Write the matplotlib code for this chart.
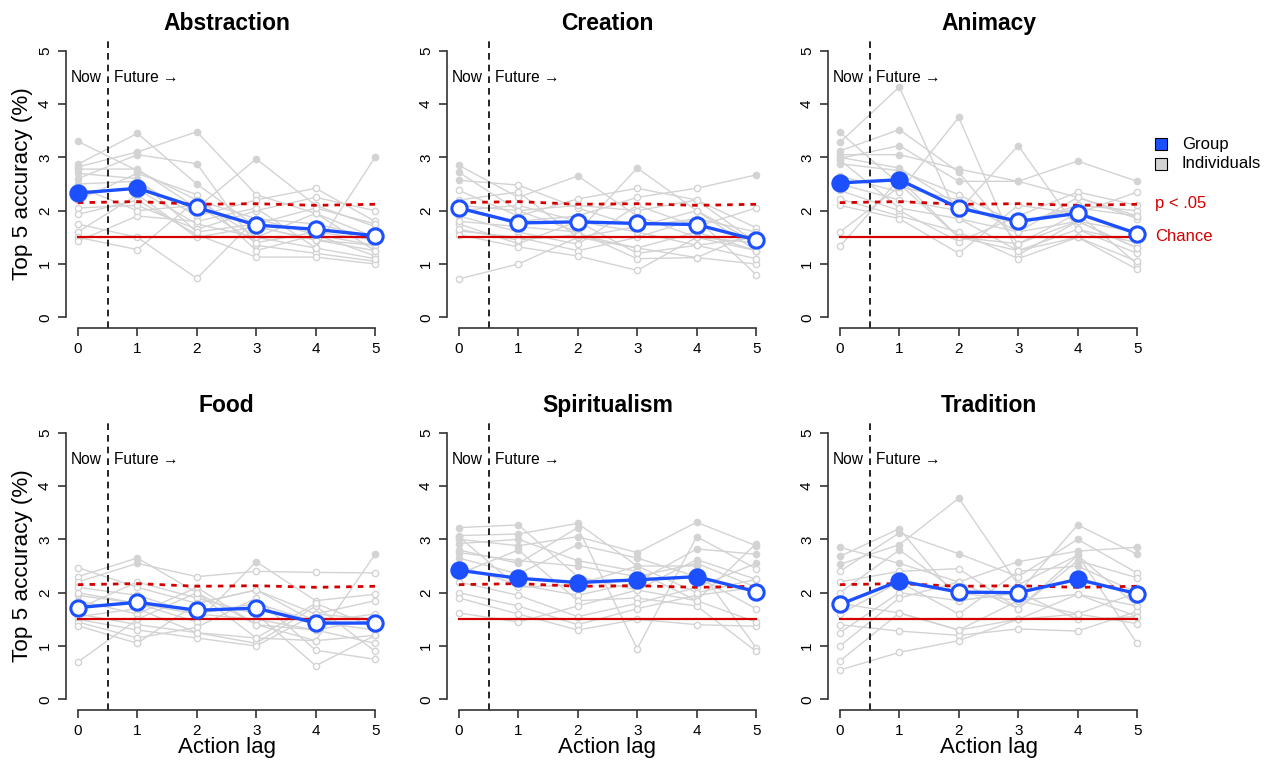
import matplotlib
matplotlib.use("Agg")
import matplotlib.pyplot as plt

plt.rcParams['font.family'] = ['Liberation Sans', 'DejaVu Sans']

lags = [0, 1, 2, 3, 4, 5]
titles = ["Abstraction", "Creation", "Animacy", "Food", "Spiritualism", "Tradition"]

# group means
group = [
    [2.33, 2.42, 2.06, 1.73, 1.65, 1.53],
    [2.05, 1.77, 1.79, 1.76, 1.74, 1.45],
    [2.52, 2.58, 2.05, 1.80, 1.95, 1.57],
    [1.72, 1.82, 1.67, 1.71, 1.43, 1.43],
    [2.42, 2.27, 2.19, 2.24, 2.30, 2.02],
    [1.78, 2.22, 2.01, 2.00, 2.25, 1.98],
]

# p < .05 threshold per lag
thresh = [
    [2.15, 2.17, 2.12, 2.13, 2.10, 2.12],
    [2.15, 2.17, 2.12, 2.13, 2.10, 2.12],
    [2.15, 2.17, 2.12, 2.13, 2.10, 2.12],
    [2.15, 2.17, 2.12, 2.13, 2.10, 2.12],
    [2.15, 2.17, 2.12, 2.13, 2.10, 2.12],
    [2.15, 2.17, 2.12, 2.13, 2.10, 2.12],
]
chance = 1.5
indiv_sig = 2.5

abstraction_ind = [
    [3.30, 2.75, 2.20, 1.85, 1.55, 1.35],
    [2.87, 3.45, 2.50, 1.70, 1.45, 1.25],
    [2.82, 3.10, 3.48, 2.30, 1.95, 1.50],
    [2.78, 2.78, 2.05, 2.97, 2.10, 1.70],
    [2.60, 3.05, 2.88, 1.35, 1.20, 1.05],
    [2.50, 2.55, 1.90, 2.20, 2.42, 1.80],
    [2.35, 2.40, 1.75, 1.50, 1.30, 3.00],
    [2.20, 2.70, 2.30, 1.25, 1.55, 1.15],
    [2.05, 2.10, 1.65, 2.00, 2.25, 2.00],
    [1.93, 2.20, 1.55, 1.13, 1.13, 1.00],
    [1.75, 1.50, 0.73, 1.85, 1.75, 1.50],
    [1.60, 2.30, 1.50, 1.70, 1.45, 1.35],
    [1.50, 1.27, 2.20, 1.50, 1.95, 1.25],
    [1.43, 1.90, 1.80, 2.05, 1.30, 1.10],
    [2.45, 2.00, 2.10, 1.40, 1.60, 1.45],
    [2.70, 2.60, 1.60, 1.75, 2.05, 1.75],
]
creation_ind = [
    [2.85, 2.25, 2.65, 1.90, 1.50, 1.40],
    [2.72, 2.00, 1.60, 2.80, 2.00, 1.25],
    [2.57, 2.48, 2.05, 1.70, 1.85, 1.60],
    [2.38, 1.90, 2.22, 2.42, 2.20, 1.68],
    [2.20, 2.35, 1.50, 1.30, 1.12, 1.00],
    [2.05, 1.80, 1.90, 2.25, 2.42, 2.67],
    [1.90, 1.60, 1.37, 2.10, 1.70, 2.05],
    [1.75, 1.38, 1.80, 1.20, 1.35, 1.10],
    [1.62, 1.50, 1.25, 1.50, 1.85, 0.80],
    [1.55, 1.32, 1.15, 0.88, 1.50, 1.25],
    [0.72, 1.00, 1.50, 1.70, 2.00, 1.40],
    [2.00, 2.10, 1.80, 1.60, 1.35, 1.50],
    [1.80, 1.70, 1.60, 1.10, 1.12, 1.60],
    [2.10, 2.00, 2.10, 2.00, 2.20, 1.40],
    [1.65, 1.45, 1.55, 1.30, 1.60, 1.25],
]
animacy_ind = [
    [3.47, 2.50, 1.50, 1.25, 1.65, 1.20],
    [3.28, 4.32, 1.85, 1.60, 1.80, 1.30],
    [3.12, 3.52, 2.72, 1.38, 1.95, 1.00],
    [3.05, 3.05, 2.78, 2.55, 2.93, 2.55],
    [2.98, 3.22, 2.55, 2.55, 2.25, 1.85],
    [2.88, 2.75, 2.30, 1.75, 2.10, 2.00],
    [2.65, 2.35, 3.75, 1.17, 1.80, 1.60],
    [2.50, 2.20, 2.00, 3.22, 1.65, 1.40],
    [2.38, 2.00, 1.42, 1.90, 2.35, 2.10],
    [2.22, 1.90, 1.60, 1.10, 1.50, 0.90],
    [2.10, 1.85, 1.20, 2.10, 1.95, 2.35],
    [1.60, 2.45, 2.20, 1.60, 2.25, 1.90],
    [1.33, 2.60, 1.50, 1.38, 1.80, 1.30],
    [2.95, 2.05, 1.85, 1.25, 1.50, 1.05],
    [3.00, 2.80, 2.10, 1.75, 2.05, 1.90],
]
food_ind = [
    [2.47, 2.10, 1.80, 2.05, 1.60, 1.50],
    [2.30, 2.65, 2.00, 1.15, 1.10, 2.72],
    [2.20, 2.55, 2.30, 2.40, 2.38, 2.37],
    [2.10, 1.95, 1.60, 1.80, 1.45, 1.30],
    [1.95, 1.80, 1.45, 2.58, 1.85, 1.97],
    [1.85, 1.60, 2.10, 1.40, 1.30, 1.05],
    [1.70, 2.20, 1.90, 1.60, 0.63, 1.20],
    [1.60, 1.40, 1.25, 1.05, 1.75, 0.90],
    [1.50, 1.30, 1.15, 1.00, 1.60, 1.85],
    [1.45, 1.15, 1.35, 1.90, 0.92, 0.75],
    [1.38, 1.05, 1.80, 2.05, 1.45, 1.60],
    [0.70, 1.50, 2.00, 1.40, 1.10, 1.20],
    [2.00, 1.80, 1.60, 1.50, 1.30, 1.50],
    [1.55, 1.70, 1.25, 1.15, 1.80, 1.35],
]
spirit_ind = [
    [3.22, 3.27, 2.30, 2.05, 2.62, 2.25],
    [3.07, 3.10, 3.30, 2.50, 2.50, 0.97],
    [3.00, 2.88, 3.05, 2.75, 3.32, 2.88],
    [2.92, 3.00, 2.60, 2.40, 1.85, 2.92],
    [2.80, 2.55, 3.22, 0.95, 3.05, 2.45],
    [2.65, 2.35, 2.90, 2.65, 2.30, 1.70],
    [2.50, 2.15, 1.95, 2.20, 2.82, 2.72],
    [2.35, 2.80, 1.85, 1.90, 1.75, 0.90],
    [2.20, 1.95, 1.55, 1.80, 2.10, 2.55],
    [2.00, 1.75, 1.40, 1.70, 1.95, 2.10],
    [1.90, 1.60, 1.30, 1.50, 1.40, 1.37],
    [1.62, 1.45, 1.75, 2.05, 1.85, 1.45],
    [3.05, 2.10, 2.15, 2.50, 2.00, 2.25],
    [2.75, 2.60, 2.50, 2.30, 2.55, 2.10],
]
trad_ind = [
    [2.85, 2.55, 2.20, 2.58, 2.78, 2.85],
    [2.68, 3.20, 1.85, 2.00, 3.27, 2.72],
    [2.53, 2.90, 3.77, 2.15, 2.70, 1.05],
    [2.40, 3.12, 2.73, 2.30, 3.00, 2.37],
    [2.20, 2.40, 2.45, 1.70, 2.60, 2.28],
    [2.00, 2.80, 2.00, 1.85, 1.97, 1.75],
    [1.80, 1.62, 1.30, 1.50, 1.60, 1.42],
    [1.60, 2.20, 1.60, 2.40, 2.50, 2.00],
    [1.40, 1.28, 1.20, 1.32, 1.28, 1.65],
    [1.25, 2.00, 1.85, 2.00, 1.50, 1.55],
    [1.00, 1.90, 2.20, 1.70, 2.70, 1.75],
    [0.72, 1.62, 1.30, 1.85, 1.60, 2.00],
    [0.55, 0.88, 1.10, 1.50, 1.97, 1.55],
]
individuals = [abstraction_ind, creation_ind, animacy_ind, food_ind, spirit_ind, trad_ind]

BLUE = '#1c50ff'
RED = '#d40000'
GRAY = '#d3d3d3'

W, H = 1269, 762
fig = plt.figure(figsize=(W / 100, H / 100), dpi=100)

lefts = [66, 447, 828]
tops = [40, 422]
pw, ph = 321, 288

axes = []
for i in range(6):
    r, c = divmod(i, 3)
    ax = fig.add_axes([lefts[c] / W, 1 - (tops[r] + ph) / H, pw / W, ph / H])
    axes.append(ax)

for i, ax in enumerate(axes):
    for ind in individuals[i]:
        ax.plot(lags, ind, color=GRAY, lw=1, zorder=1)
        for x, v in zip(lags, ind):
            fc = GRAY if v >= indiv_sig else 'white'
            ax.plot(x, v, 'o', ms=4.5, mfc=fc, mec=GRAY, mew=1, zorder=1.5)
    ax.plot(lags, [chance] * 6, color=RED, lw=1.6, zorder=2)
    ax.plot(lags, thresh[i], color=RED, lw=2, ls=(0, (2, 2.2)), zorder=2)
    ax.axvline(0.5, color='black', lw=1.2, ls=(0, (4, 3)), zorder=2.5)
    ax.plot(lags, group[i], color=BLUE, lw=2.4, zorder=3)
    for x, v, t in zip(lags, group[i], thresh[i]):
        fc = BLUE if v > t else 'white'
        ax.plot(x, v, 'o', ms=11, mfc=fc, mec=BLUE, mew=2.2, zorder=4)
    ax.text(0.4, 4.5, "Now", ha='right', va='center', fontsize=11.2)
    ax.text(0.6, 4.5, "Future \u2192", ha='left', va='center', fontsize=11.2)

    ax.set_xlim(-0.2, 5.2)
    ax.set_ylim(-0.2, 5.2)
    ax.spines['top'].set_visible(False)
    ax.spines['right'].set_visible(False)
    ax.spines['left'].set_bounds(0, 5)
    ax.spines['bottom'].set_bounds(0, 5)
    for s in ['left', 'bottom']:
        ax.spines[s].set_color('#333333')
        ax.spines[s].set_linewidth(1.2)
    ax.set_xticks(lags)
    ax.set_yticks([0, 1, 2, 3, 4, 5])
    ax.tick_params(axis='both', length=6, width=1.2, color='#333333', labelsize=11, pad=4)
    for lab in ax.get_yticklabels():
        lab.set_rotation(90)
        lab.set_va('center')
    ax.set_title(titles[i], fontsize=16.5, fontweight='bold', pad=7)
    if i % 3 == 0:
        ax.set_ylabel("Top 5 accuracy (%)", fontsize=16.2, labelpad=4)
    if i >= 3:
        ax.set_xlabel("Action lag", fontsize=16, labelpad=-1)

# legend beside Animacy panel
ax = axes[2]
ax.plot(5.41, 3.25, 's', ms=9, mfc=BLUE, mec='black', mew=0.8, clip_on=False)
ax.plot(5.41, 2.88, 's', ms=9, mfc=GRAY, mec='black', mew=0.8, clip_on=False)
ax.text(5.75, 3.25, "Group", va='center', fontsize=12)
ax.text(5.75, 2.88, "Individuals", va='center', fontsize=12)
ax.text(5.3, 2.14, "p < .05", va='center', color=RED, fontsize=12)
ax.text(5.3, 1.52, "Chance", va='center', color=RED, fontsize=12)

fig.savefig("out.png", dpi=100)
